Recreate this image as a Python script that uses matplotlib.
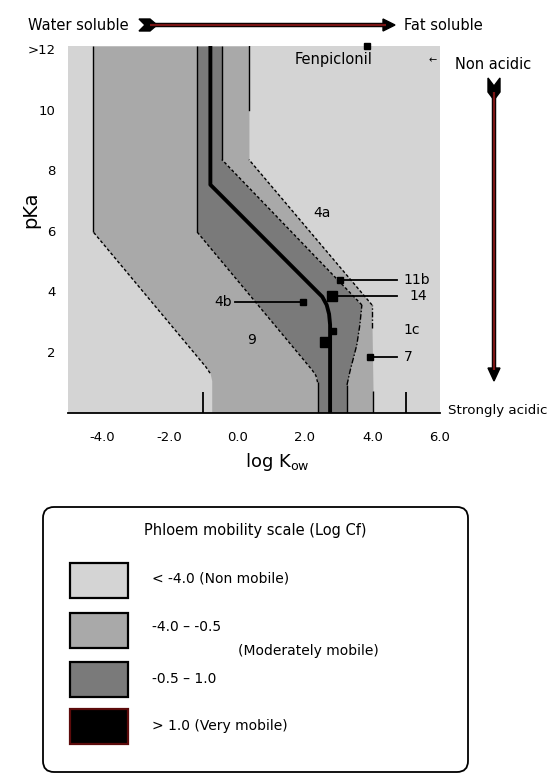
import numpy as np
import matplotlib
matplotlib.use("Agg")
import matplotlib.pyplot as plt
from matplotlib.patches import FancyBboxPatch, Rectangle, Polygon

# ---------------- data (log Kow, pKa) ----------------
# boundary curves between mobility zones, listed from pKa 0 upward
A_kow = [-0.75, -0.75, -0.80, -0.92, -4.26, -4.26]
A_pka = [0.00, 1.05, 1.30, 1.50, 5.97, 12.10]
B_kow = [2.38, 2.38, 2.33, 2.22, -1.19, -1.19]
B_pka = [0.00, 1.00, 1.22, 1.40, 5.97, 12.10]
C_kow = [2.75, 2.75, 2.72, 2.65, 2.52, -0.79, -0.79]
C_pka = [0.00, 2.90, 3.25, 3.55, 3.82, 7.52, 12.10]
D_kow = [3.25, 3.25, 3.34, 3.54, 3.63, 3.69, -0.45, -0.45]
D_pka = [0.00, 0.91, 1.37, 2.23, 2.89, 3.55, 8.35, 12.10]
E_kow = [4.02, 4.02, 3.99, 3.99, 0.35, 0.35]
E_pka = [0.00, 0.70, 2.80, 3.55, 8.35, 12.10]

# compounds (markers)
cmp_names = ["Fenpiclonil", "11b", "14", "4b", "7", "", ""]
cmp_kow = [3.84, 3.04, 2.80, 1.95, 3.93, 2.60, 2.84]
cmp_pka = [12.10, 4.37, 3.85, 3.65, 1.83, 2.33, 2.68]

# zone labels without markers
zone_names = ["4a", "9", "1c"]
zone_kow = [2.51, 0.44, 5.17]
zone_pka = [6.60, 2.39, 2.72]

xtick_vals = [-4, -2, 0, 2, 4, 6]
xtick_labels = ["-4.0", "-2.0", "0.0", "2.0", "4.0", "6.0"]
xtick_marks = [-4, -1, 2, 5, 6]
ytick_vals = [2, 4, 6, 8, 10, 12]
ytick_labels = ["2", "4", "6", "8", "10", ">12"]
ytick_marks = [2, 6]

legend_title = "Phloem mobility scale (Log Cf)"
legend_labels = ["< -4.0 (Non mobile)", "-4.0 \u2013 -0.5", "-0.5 \u2013 1.0", "> 1.0 (Very mobile)"]
legend_note = "(Moderately mobile)"

LIGHT, MED, DARK, BLACK = "#d4d4d4", "#a9a9a9", "#7a7a7a", "#000000"
legend_colors = [LIGHT, MED, DARK, BLACK]
legend_edges = ["black", "black", "black", "#5c0b0b"]
ARROW_RED = "#7a1414"

plt.rcParams['font.family'] = ['DejaVu Sans']

W, H = 557, 778
fig = plt.figure(figsize=(W / 100, H / 100), dpi=100)
ax = fig.add_axes([68 / W, 1 - 412.5 / H, 372 / W, 366.5 / H])
ax.set_facecolor(LIGHT)
ax.set_xlim(-5, 6)
ax.set_ylim(0, 12.1)

yy = np.linspace(0, 12.1, 1200)
xa = np.interp(yy, A_pka, A_kow)
xb = np.interp(yy, B_pka, B_kow)
xd = np.interp(yy, D_pka, D_kow)
xe = np.interp(yy, E_pka, E_kow)
ax.fill_betweenx(yy, xa, xb, color=MED, lw=0, zorder=1)
ax.fill_betweenx(yy, xb, xd, color=DARK, lw=0, zorder=1)
ax.fill_betweenx(yy, xd, xe, color=MED, lw=0, zorder=1)

dash = (0, (2.2, 1.6))
dashdot = (0, (4, 1.5, 1, 1.5))


def seg(kx, ky, i0, i1, ls, lw=1.0):
    ax.plot(kx[i0:i1 + 1], ky[i0:i1 + 1], color="black", ls=ls, lw=lw, zorder=3,
            solid_capstyle="butt")


# A
seg(A_kow, A_pka, 4, 5, "-")
seg(A_kow, A_pka, 2, 4, dash)
# B
seg(B_kow, B_pka, 0, 1, "-")
seg(B_kow, B_pka, 1, 4, dash)
seg(B_kow, B_pka, 4, 5, "-")
# C (thick)
ax.plot(C_kow, C_pka, color="black", lw=2.8, zorder=4, solid_joinstyle="round")
# D
seg(D_kow, D_pka, 0, 1, "-")
seg(D_kow, D_pka, 1, 5, dashdot)
seg(D_kow, D_pka, 5, 6, dash)
seg(D_kow, D_pka, 6, 7, "-")
# E
seg(E_kow, E_pka, 0, 1, "-")
seg(E_kow, E_pka, 2, 3, dashdot)
seg(E_kow, E_pka, 3, 4, dash)
ax.plot([E_kow[-1], E_kow[-1]], [10.0, E_pka[-1]], color="black", lw=1.0, zorder=3)

# markers + labels
FS = 10
lead_end = 4.73
for i, (nm, kx, ky) in enumerate(zip(cmp_names, cmp_kow, cmp_pka)):
    ms = 6.5 if nm == "14" or (nm == "" and i == 5) else 4.5
    ax.plot(kx, ky, marker="s", ms=ms, color="black", ls="none", zorder=6, clip_on=False)
    if nm == "Fenpiclonil":
        ax.text(kx + 0.15, 11.65, nm, ha="right", va="center", fontsize=10.5, zorder=6)
    elif nm == "4b":
        ax.plot([-0.07, kx], [ky, ky], color="black", lw=1.3, zorder=5)
        ax.text(-0.15, ky, nm, ha="right", va="center", fontsize=FS, zorder=6)
    elif nm in ("11b", "14", "7"):
        ax.plot([kx, lead_end], [ky, ky], color="black", lw=1.3, zorder=5)
        ax.text(4.92 if nm != "14" else 5.1, ky, nm, ha="left", va="center", fontsize=FS, zorder=6)

for nm, kx, ky in zip(zone_names, zone_kow, zone_pka):
    ax.text(kx, ky, nm, ha="center", va="center", fontsize=FS, zorder=6)

# axes styling
for s in ["left", "top", "right"]:
    ax.spines[s].set_visible(False)
ax.spines["bottom"].set_linewidth(1.3)
ax.set_xticks(xtick_vals)
ax.set_xticklabels(xtick_labels)
ax.set_xticks(xtick_marks, minor=True)
ax.set_yticks(ytick_vals)
ax.set_yticklabels(ytick_labels)
ax.set_yticks(ytick_marks, minor=True)
ax.tick_params(axis="x", which="major", length=0, pad=13, labelsize=9.5)
ax.tick_params(axis="y", which="major", length=0, pad=9, labelsize=9.5)
ax.tick_params(axis="x", which="minor", direction="in", length=15, width=1.3, color="black")
ax.tick_params(axis="y", which="minor", direction="in", length=10, width=1.3, color="black")
for t in ax.xaxis.get_minorticklines() + ax.yaxis.get_minorticklines():
    t.set_zorder(5)
ax.set_axisbelow(False)

ax.set_xlabel(r"log K$_{\mathrm{ow}}$", fontsize=13)
ax.xaxis.set_label_coords((277 - 68) / 372, -0.105)
ax.set_ylabel("pKa", fontsize=14)
ax.yaxis.set_label_coords(-0.075, 0.553)

# ---------------- overlay (pixel coordinates) ----------------
ov = fig.add_axes([0, 0, 1, 1], zorder=10)
ov.set_xlim(0, W)
ov.set_ylim(H, 0)
ov.axis("off")
ov.patch.set_alpha(0)

# horizontal arrow
ov.text(129, 25, "Water soluble", ha="right", va="center", fontsize=10.5)
ov.text(404, 25, "Fat soluble", ha="left", va="center", fontsize=10.5)
ov.plot([150, 386], [25, 25], color="black", lw=3.2, solid_capstyle="butt")
ov.plot([150, 386], [25, 25], color=ARROW_RED, lw=1.6, solid_capstyle="butt")
ov.add_patch(Polygon([(383, 19), (395, 25), (383, 31)], closed=True, color="black"))
ov.add_patch(Polygon([(139, 19), (150, 19), (157, 25), (150, 31), (139, 31), (145, 25)],
                     closed=True, color="black"))

# vertical arrow
ov.text(433, 60, "\u2190", ha="center", va="center", fontsize=7)
ov.text(455, 64, "Non acidic", ha="left", va="center", fontsize=10.5)
ov.text(448, 410, "Strongly acidic", ha="left", va="center", fontsize=9.6)
ov.plot([494, 494], [92, 370], color="black", lw=3.2, solid_capstyle="butt")
ov.plot([494, 494], [92, 370], color=ARROW_RED, lw=1.6, solid_capstyle="butt")
ov.add_patch(Polygon([(488, 368), (500, 368), (494, 381)], closed=True, color="black"))
ov.add_patch(Polygon([(488, 78), (488, 92), (494, 100), (500, 92), (500, 78), (494, 86)],
                     closed=True, color="black"))

# legend
ov.add_patch(FancyBboxPatch((43, 507), 425, 265, boxstyle="round,pad=0,rounding_size=11",
                            fc="white", ec="black", lw=1.3))
ov.text(255, 530, legend_title, ha="center", va="center", fontsize=10.5)
sw_y = [563, 613, 662, 709]
txt_y = [578, 627, 679, 726]
for y0, ty, lab, fc, ec in zip(sw_y, txt_y, legend_labels, legend_colors, legend_edges):
    ov.add_patch(Rectangle((70, y0), 58, 35, fc=fc, ec=ec, lw=1.6))
    ov.text(152, ty, lab, ha="left", va="center", fontsize=10)
ov.text(238, 651, legend_note, ha="left", va="center", fontsize=10)

fig.savefig("out.png", dpi=100)
